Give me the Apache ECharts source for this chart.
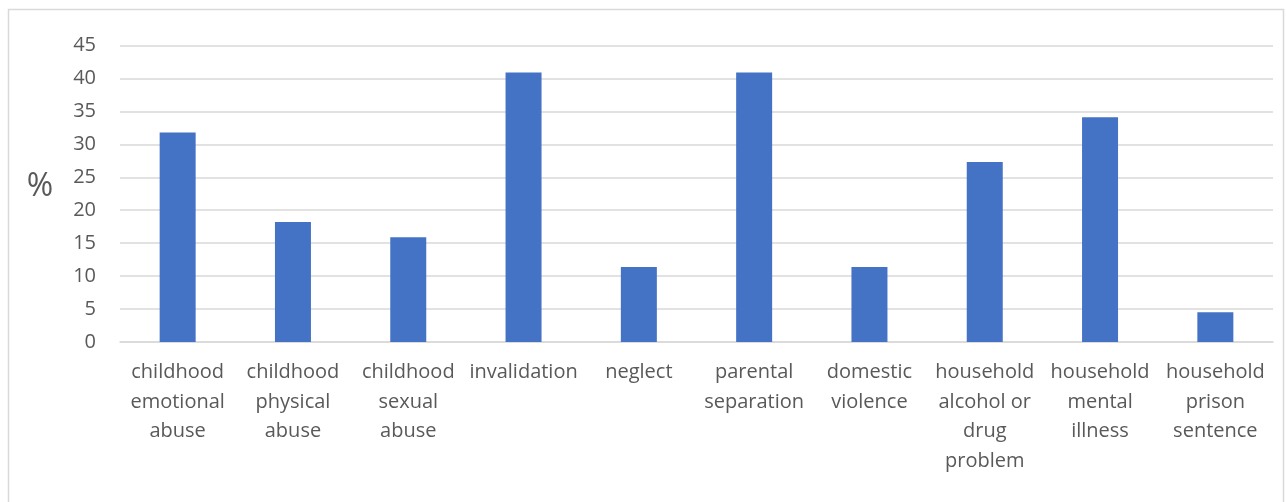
<!DOCTYPE html>
<html>
<head>
<meta charset="utf-8">
<script src="https://cdn.jsdelivr.net/npm/echarts@6/dist/echarts.min.js"></script>
<style>
  html, body { margin: 0; padding: 0; background: #fff; }
  #chart { width: 1286px; height: 502px; }
</style>
</head>
<body>
<div id="chart"></div>
<script>
// Adverse experience categories (line breaks as shown under each bar)
const categories = [
  'childhood\nemotional\nabuse',
  'childhood\nphysical\nabuse',
  'childhood\nsexual\nabuse',
  'invalidation',
  'neglect',
  'parental\nseparation',
  'domestic\nviolence',
  'household\nalcohol or\ndrug\nproblem',
  'household\nmental\nillness',
  'household\nprison\nsentence'
];

// Share of respondents reporting each experience (%)
const percentages = [31.8, 18.2, 15.9, 40.9, 11.4, 40.9, 11.4, 27.3, 34.1, 4.5];

// Value axis range
const yMin = 0;
const yMax = 45;
const yStep = 5;

const textColor = '#595959';
const lineColor = '#D9D9D9';
const fontFamily = 'Open Sans, Lato, Liberation Sans, sans-serif';

const chart = echarts.init(document.getElementById('chart'), null, { renderer: 'canvas' });

chart.setOption({
  animation: false,
  backgroundColor: '#ffffff',
  graphic: [
    {
      type: 'rect',
      shape: { x: 8.5, y: 9.5, width: 1275, height: 500 },
      style: { fill: 'none', stroke: lineColor, lineWidth: 1.5 },
      silent: true,
      z: -10
    },
    {
      type: 'text',
      x: 40,
      y: 187,
      style: {
        text: '%',
        fill: textColor,
        font: '32px ' + fontFamily,
        align: 'center',
        verticalAlign: 'middle'
      },
      silent: true
    }
  ],
  grid: {
    left: 120,
    right: 13,
    top: 45.5,
    bottom: 160
  },
  xAxis: {
    type: 'category',
    data: categories,
    axisLine: { show: true, lineStyle: { color: lineColor, width: 1.5 } },
    axisTick: { show: false },
    axisLabel: {
      interval: 0,
      color: textColor,
      fontFamily: fontFamily,
      fontSize: 20,
      lineHeight: 29.5,
      margin: 16
    }
  },
  yAxis: {
    type: 'value',
    min: yMin,
    max: yMax,
    interval: yStep,
    axisLine: { show: false },
    axisTick: { show: false },
    axisLabel: {
      color: textColor,
      fontFamily: fontFamily,
      fontSize: 20,
      margin: 24
    },
    splitLine: { lineStyle: { color: lineColor, width: 1.5 } }
  },
  series: [
    {
      type: 'bar',
      data: percentages,
      barWidth: 36,
      itemStyle: { color: '#4472C4' }
    }
  ]
});
</script>
</body>
</html>
